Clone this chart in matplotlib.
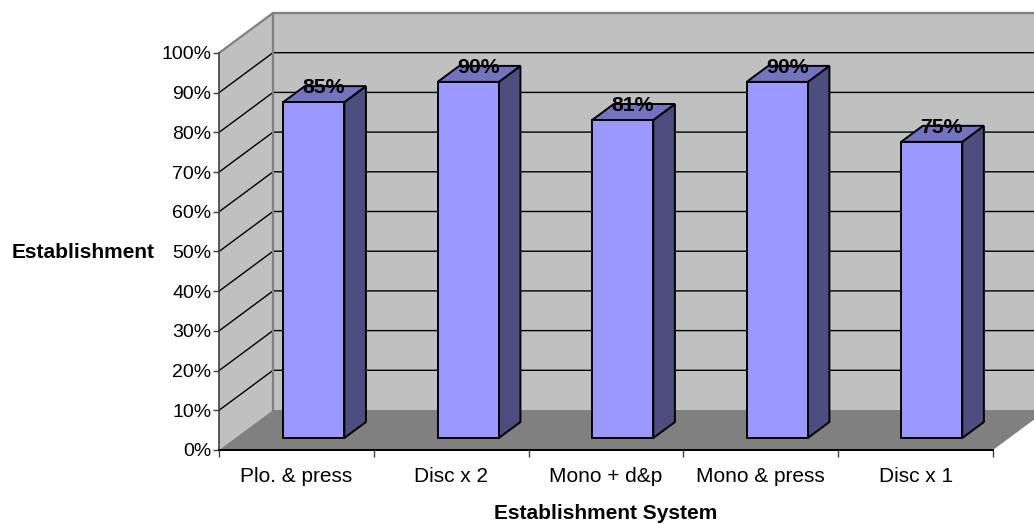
import matplotlib
matplotlib.use("Agg")
import matplotlib.pyplot as plt
from matplotlib.patches import Polygon

plt.rcParams["font.family"] = ["Liberation Sans", "DejaVu Sans"]

categories = ["Plo. & press", "Disc x 2", "Mono + d&p", "Mono & press", "Disc x 1"]
values = [84.6, 89.7, 80.1, 89.7, 74.6]  # bar heights
value_labels = ["85%", "90%", "81%", "90%", "75%"]
y_ticks = [0, 10, 20, 30, 40, 50, 60, 70, 80, 90, 100]

# depth of the fake 3d box, in data units
DX = 54 / 154.8
DY = 40 / 3.97
FRONT, BACK = 0.3, 0.7
BAR_W = 0.395
FS = 15

fig = plt.figure(figsize=(10.34, 5.24), dpi=100)
ax = fig.add_axes([219 / 1034, (524 - 450) / 524, 774 / 1034, 397 / 524])
ax.set_xlim(0, 5)
ax.set_ylim(0, 100)
ax.patch.set_visible(False)


def poly(pts, color, z, edge="none", lw=0):
    ax.add_patch(Polygon(pts, closed=True, facecolor=color, edgecolor=edge,
                         linewidth=lw, zorder=z, clip_on=False, joinstyle="miter"))


# walls and floor
poly([(DX, DY), (5 + DX, DY), (5 + DX, 100 + DY), (DX, 100 + DY)], "#C0C0C0", 1)
poly([(0, 0), (DX, DY), (DX, 100 + DY), (0, 100)], "#C0C0C0", 1)
poly([(0, 0), (5, 0), (5 + DX, DY), (DX, DY)], "#808080", 1.5)

# gridlines
for t in y_ticks[1:-1]:
    ax.plot([0, DX, 5 + DX], [t, t + DY, t + DY], color="black", lw=1, zorder=2, clip_on=False)

# wall outline
ax.plot([0, DX, 5 + DX], [100, 100 + DY, 100 + DY], color="#808080", lw=1.6, zorder=2, clip_on=False)
ax.plot([DX, DX], [DY, 100 + DY], color="#808080", lw=1.6, zorder=2, clip_on=False)

# bars
for i, v in enumerate(values):
    x0 = i * 0.998 + 0.31 + FRONT * DX
    x1 = x0 + BAR_W
    y0 = FRONT * DY
    sx = (BACK - FRONT) * DX
    sy = (BACK - FRONT) * DY
    poly([(x1, y0), (x1 + sx, y0 + sy), (x1 + sx, v + y0 + sy), (x1, v + y0)], "#4D4D80", 3, "black", 1.4)
    poly([(x0, v + y0), (x1, v + y0), (x1 + sx, v + y0 + sy), (x0 + sx, v + y0 + sy)], "#7373BF", 3, "black", 1.4)
    poly([(x0, y0), (x1, y0), (x1, v + y0), (x0, v + y0)], "#9999FF", 4, "black", 1.4)
    ax.text(x0 + BAR_W / 2 + sx * 0.47, v + y0 + sy - 0.4, value_labels[i], ha="center", va="center",
            fontsize=15.3, fontweight="bold", zorder=5, clip_on=False)

# axes
for s in ["top", "right"]:
    ax.spines[s].set_visible(False)
ax.spines["left"].set_color("#404040")
ax.spines["left"].set_linewidth(1.2)
ax.spines["bottom"].set_linewidth(1.4)
ax.spines["left"].set_zorder(6)
ax.spines["bottom"].set_zorder(6)

ax.set_yticks(y_ticks)
ax.set_yticklabels([f"{t}%" for t in y_ticks], fontsize=14)
ax.set_xticks(range(6))
ax.set_xticklabels([])
ax.set_xticks([i + 0.5 for i in range(5)], minor=True)
ax.set_xticklabels(categories, minor=True, fontsize=FS)
ax.tick_params(axis="x", which="major", length=5, width=1, color="#404040")
ax.tick_params(axis="x", which="minor", length=0, pad=12)
ax.tick_params(axis="y", length=4.5, width=1, pad=1, color="#404040")

ax.set_xlabel("Establishment System", fontsize=FS, fontweight="bold", va="center")
ax.xaxis.set_label_coords(0.499, -0.159)
ax.set_ylabel("Establishment", fontsize=FS, fontweight="bold", rotation=0, ha="center", va="center")
ax.yaxis.set_label_coords(-0.176, 0.498)

fig.savefig("out.png", dpi=100)
